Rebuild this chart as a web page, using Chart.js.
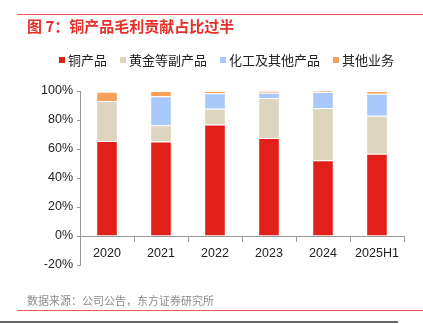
<!DOCTYPE html>
<html>
<head>
<meta charset="utf-8">
<script src="https://cdn.jsdelivr.net/npm/chart.js@4"></script>
<style>
  html, body { margin: 0; padding: 0; background: #fff; }
  #wrap { width: 423px; height: 324px; position: relative; }
</style>
</head>
<body>
<div id="wrap"><canvas id="chart" width="423" height="324"></canvas></div>
<script>
// Chart data
const categories = ['2020', '2021', '2022', '2023', '2024', '2025H1'];
const copper = [65.5, 65.1, 76.9, 67.6, 52.2, 56.8];
const goldByproducts = [27.6, 11.3, 10.8, 27.5, 36.0, 26.1];
const chemicals = [-0.6, 19.9, 10.7, 3.7, 11.1, 15.2];
const otherBiz = [6.4, 3.7, 1.6, 1.2, 0.7, 1.9];
const yTicks = [-20, 0, 20, 40, 60, 80, 100];

const CJK = '"Noto Sans CJK SC", sans-serif';
const LATIN = '"Liberation Sans", Arial, sans-serif';

// title, frame lines, source and legend drawn on the canvas
const decorPlugin = {
  id: 'decor',
  afterDraw(chart) {
    const ctx = chart.ctx;
    ctx.save();
    ctx.strokeStyle = '#EE5A50';
    ctx.lineWidth = 1;
    ctx.beginPath(); ctx.moveTo(17, 14.5); ctx.lineTo(423, 14.5); ctx.stroke();
    ctx.beginPath(); ctx.moveTo(17, 310.5); ctx.lineTo(423, 310.5); ctx.stroke();
    ctx.strokeStyle = '#666';
    ctx.lineWidth = 2;
    ctx.beginPath(); ctx.moveTo(0, 322); ctx.lineTo(398, 322); ctx.stroke();

    ctx.textBaseline = 'middle';
    ctx.textAlign = 'left';
    ctx.fillStyle = '#E5302A';
    ctx.font = 'bold 15px ' + CJK;
    ctx.fillText('图 7：铜产品毛利贡献占比过半', 27, 26);

    ctx.fillStyle = '#8c8c8c';
    ctx.font = '11px ' + CJK;
    ctx.fillText('数据来源：公司公告，东方证券研究所', 27, 301);

    // legend from datasets
    ctx.font = '13px ' + CJK;
    let x = 59;
    chart.data.datasets.forEach(ds => {
      ctx.fillStyle = ds.backgroundColor;
      ctx.fillRect(x, 57, 6, 6);
      ctx.fillStyle = '#222';
      ctx.fillText(ds.label, x + 9, 60);
      x += 9 + ctx.measureText(ds.label).width + 13;
    });
    ctx.restore();
  }
};

new Chart(document.getElementById('chart'), {
  type: 'bar',
  data: {
    labels: categories,
    datasets: [
      { label: '铜产品', data: copper, backgroundColor: '#E2201A' },
      { label: '黄金等副产品', data: goldByproducts, backgroundColor: '#DDD5BE' },
      { label: '化工及其他产品', data: chemicals, backgroundColor: '#A8C8FA' },
      { label: '其他业务', data: otherBiz, backgroundColor: '#F9A05A' }
    ].map(ds => Object.assign(ds, {
      borderColor: 'rgba(255,255,255,0.55)',
      borderWidth: 1,
      barPercentage: 0.4,
      categoryPercentage: 1
    }))
  },
  options: {
    responsive: false,
    animation: false,
    layout: { padding: { left: 10, right: 19, top: 91, bottom: 59 } },
    plugins: {
      legend: { display: false },
      tooltip: { enabled: false }
    },
    scales: {
      x: {
        stacked: true,
        position: { y: 0 },
        grid: { display: true, drawOnChartArea: false, tickLength: 5, color: '#999' },
        border: { color: '#999' },
        ticks: { color: '#222', font: { family: LATIN, size: 12.5 }, padding: 5 }
      },
      y: {
        stacked: true,
        min: -20,
        max: 100,
        afterFit: s => { s.width = 70; },
        afterBuildTicks: s => { s.ticks = yTicks.map(v => ({ value: v })); },
        grid: { display: true, drawOnChartArea: false, tickLength: 3, color: '#999' },
        border: { color: '#999' },
        ticks: {
          color: '#222',
          font: { family: LATIN, size: 12.5 },
          padding: 4,
          callback: v => v + '%'
        }
      }
    }
  },
  plugins: [decorPlugin]
});
</script>
</body>
</html>
